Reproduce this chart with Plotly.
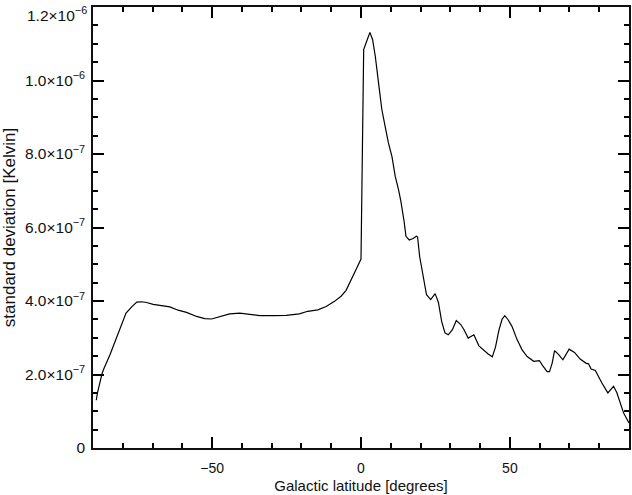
import plotly.graph_objects as go

latitude_deg = [
    -88.9, -88.5, -87.0, -86.5, -84.3, -82.0, -80.3, -78.9, -77.0, -75.3,
    -73.6, -72.0, -69.8, -67.0, -64.2, -61.4, -58.6, -55.2, -52.5, -50.2,
    -47.4, -44.1, -40.7, -37.4, -34.0, -29.6, -25.1, -20.7, -17.9, -14.5,
    -11.7, -8.9, -6.7, -5.0, -3.9, -2.8, -1.7, 0.0, 0.9, 1.7,
    3.0, 3.9, 4.8, 5.9, 7.0, 8.1, 9.2, 10.4, 11.5, 12.6,
    13.4, 14.5, 15.1, 16.2, 17.5, 18.6, 19.0, 19.7, 20.9, 22.0,
    23.4, 24.9, 26.0, 27.1, 28.2, 29.3, 30.7, 32.0, 33.5, 34.6,
    36.0, 37.9, 39.6, 41.3, 42.7, 44.1, 45.2, 46.3, 47.4, 48.3,
    49.4, 50.7, 52.4, 54.1, 55.8, 58.0, 59.9, 61.0, 62.5, 63.3,
    64.2, 65.0, 66.4, 67.8, 69.9, 71.7, 73.6, 75.5, 76.4, 77.3,
    78.7, 80.9, 82.9, 84.8, 85.9, 88.2, 90.0,
]

std_kelvin = [
    1.30e-7, 1.50e-7, 2.01e-7, 2.13e-7, 2.54e-7, 3.04e-7, 3.40e-7, 3.67e-7, 3.84e-7, 3.97e-7,
    3.98e-7, 3.96e-7, 3.91e-7, 3.88e-7, 3.84e-7, 3.75e-7, 3.69e-7, 3.58e-7, 3.52e-7, 3.51e-7,
    3.57e-7, 3.65e-7, 3.67e-7, 3.64e-7, 3.60e-7, 3.60e-7, 3.61e-7, 3.65e-7, 3.72e-7, 3.76e-7,
    3.85e-7, 3.99e-7, 4.13e-7, 4.29e-7, 4.49e-7, 4.67e-7, 4.85e-7, 5.14e-7, 10.84e-7, 11.02e-7,
    11.31e-7, 11.11e-7, 10.66e-7, 9.93e-7, 9.21e-7, 8.75e-7, 8.30e-7, 7.93e-7, 7.39e-7, 7.03e-7,
    6.71e-7, 6.15e-7, 5.76e-7, 5.66e-7, 5.70e-7, 5.76e-7, 5.74e-7, 5.21e-7, 4.67e-7, 4.17e-7,
    4.04e-7, 4.20e-7, 3.96e-7, 3.44e-7, 3.13e-7, 3.08e-7, 3.22e-7, 3.47e-7, 3.36e-7, 3.22e-7,
    2.99e-7, 3.08e-7, 2.78e-7, 2.65e-7, 2.56e-7, 2.48e-7, 2.76e-7, 3.20e-7, 3.51e-7, 3.60e-7,
    3.49e-7, 3.31e-7, 2.95e-7, 2.67e-7, 2.49e-7, 2.36e-7, 2.38e-7, 2.24e-7, 2.08e-7, 2.08e-7,
    2.31e-7, 2.65e-7, 2.54e-7, 2.40e-7, 2.69e-7, 2.60e-7, 2.42e-7, 2.31e-7, 2.29e-7, 2.15e-7,
    2.11e-7, 1.77e-7, 1.50e-7, 1.68e-7, 1.51e-7, 0.95e-7, 0.68e-7,
]

x_range = [-90, 90]
y_range = [0, 1.2e-6]
x_tick_vals = [-50, 0, 50]
x_tick_text = ["\u221250", "0", "50"]
y_tick_vals = [0, 2e-7, 4e-7, 6e-7, 8e-7, 1.0e-6, 1.2e-6]
y_tick_text = [
    "0",
    "2.0\u00d710<sup>\u22127</sup>",
    "4.0\u00d710<sup>\u22127</sup>",
    "6.0\u00d710<sup>\u22127</sup>",
    "8.0\u00d710<sup>\u22127</sup>",
    "1.0\u00d710<sup>\u22126</sup>",
    "",
]
y_top_value = 1.2e-6
y_top_text = "1.2\u00d710<sup>\u22126</sup>"
x_minor_step = 10
y_minor_step = 5e-8

font_family = "Liberation Sans, Arial, sans-serif"
ink = "#111111"
tick_ink = "black"

fig = go.Figure()
fig.add_trace(
    go.Scatter(
        x=latitude_deg,
        y=std_kelvin,
        mode="lines",
        line=dict(color="black", width=1.2),
        showlegend=False,
        hoverinfo="skip",
    )
)
# same series on the overlay axes (transparent) so the minor-tick axes are drawn
fig.add_trace(
    go.Scatter(
        x=latitude_deg,
        y=std_kelvin,
        xaxis="x2",
        yaxis="y2",
        mode="lines",
        line=dict(color="black", width=1.2),
        opacity=0,
        showlegend=False,
        hoverinfo="skip",
    )
)

fig.update_layout(
    width=632,
    height=495,
    margin=dict(l=93, r=1, t=7, b=47),
    paper_bgcolor="white",
    plot_bgcolor="white",
    font=dict(family=font_family, size=14, color=ink),
    xaxis=dict(
        range=x_range,
        tickmode="array",
        tickvals=x_tick_vals,
        ticktext=x_tick_text,
        ticks="inside",
        ticklen=11,
        tickwidth=2,
        tickcolor=tick_ink,
        showline=True,
        linecolor=ink,
        linewidth=1.5,
        mirror="allticks",
        layer="above traces",
        showgrid=False,
        zeroline=False,
        ticklabelstandoff=6,
        tickfont=dict(size=14),
        title=dict(text="Galactic latitude [degrees]", font=dict(size=15), standoff=6),
    ),
    yaxis=dict(
        range=y_range,
        tickmode="array",
        tickvals=y_tick_vals,
        ticktext=y_tick_text,
        ticks="inside",
        ticklen=11,
        tickwidth=2,
        tickcolor=tick_ink,
        showline=True,
        linecolor=ink,
        linewidth=1.5,
        mirror="allticks",
        layer="above traces",
        showgrid=False,
        zeroline=False,
        ticklabelstandoff=3,
        tickfont=dict(size=15.5),
        title=dict(text="standard deviation [Kelvin]", font=dict(size=17), standoff=7),
    ),
    xaxis2=dict(
        overlaying="x",
        anchor="y",
        side="bottom",
        range=x_range,
        tickmode="linear",
        tick0=0,
        dtick=x_minor_step,
        ticks="inside",
        ticklen=5,
        tickwidth=1.5,
        tickcolor=tick_ink,
        showticklabels=False,
        showline=False,
        mirror="allticks",
        layer="above traces",
        showgrid=False,
        zeroline=False,
    ),
    yaxis2=dict(
        overlaying="y",
        anchor="x",
        side="left",
        range=y_range,
        tickmode="linear",
        tick0=0,
        dtick=y_minor_step,
        ticks="inside",
        ticklen=5,
        tickwidth=1.5,
        tickcolor=tick_ink,
        showticklabels=False,
        showline=False,
        mirror="allticks",
        layer="above traces",
        showgrid=False,
        zeroline=False,
    ),
)

fig.add_annotation(
    xref="paper", yref="y", x=0, y=y_top_value,
    text=y_top_text, showarrow=False,
    xanchor="right", yanchor="top", xshift=-4, yshift=5,
    font=dict(size=15.5, color=ink),
)

fig.write_html("out.html")
